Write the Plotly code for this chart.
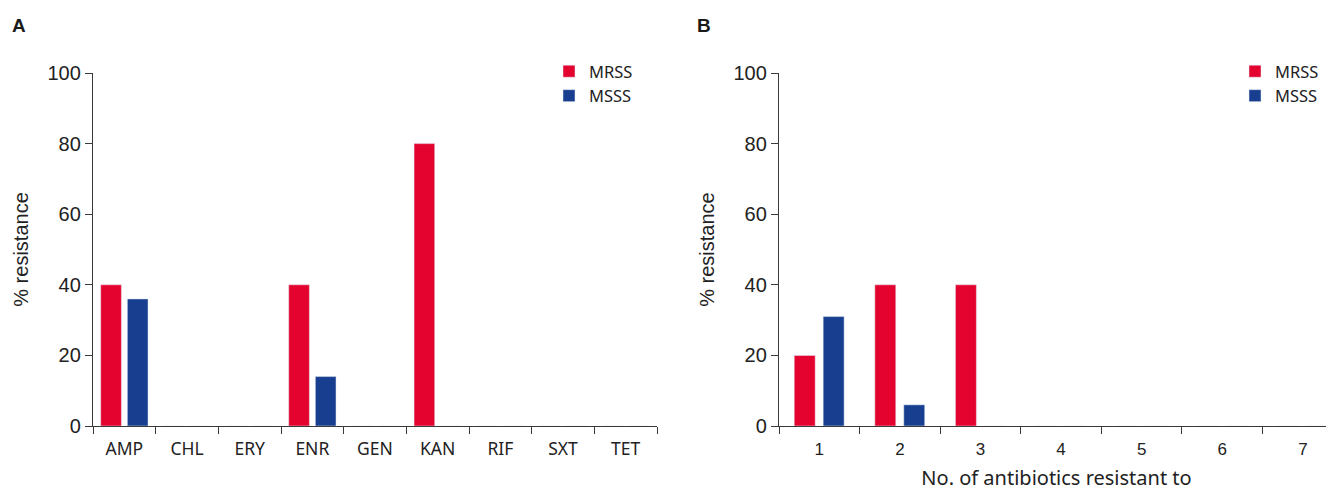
import plotly.graph_objects as go

# ---- data ----
antibiotics = ["AMP", "CHL", "ERY", "ENR", "GEN", "KAN", "RIF", "SXT", "TET"]
mrss_resistance = [40, 0, 0, 40, 0, 80, 0, 0, 0]
msss_resistance = [36, 0, 0, 14, 0, 0, 0, 0, 0]

n_resistant = ["1", "2", "3", "4", "5", "6", "7"]
mrss_multi = [20, 40, 40, 0, 0, 0, 0]
msss_multi = [31, 6, 0, 0, 0, 0, 0]

y_ticks = [0, 20, 40, 60, 80, 100]

RED = "#E4032E"
BLUE = "#183F8F"
AXC = "#3a3a3a"

# page body has an 8px margin in the browser; size the figure to fit the window
OFF = 8
W, H = 1334 - OFF, 491 - OFF


def px_x(p):
    return min(1.0, (p - OFF) / W)


def px_y(p):
    return (H - (p - OFF)) / H


fig = go.Figure()

# Panel A
fig.add_trace(go.Bar(x=antibiotics, y=mrss_resistance, name="MRSS", marker_color=RED,
                     width=0.33, offset=-0.377, xaxis="x", yaxis="y", legend="legend"))
fig.add_trace(go.Bar(x=antibiotics, y=msss_resistance, name="MSSS", marker_color=BLUE,
                     width=0.33, offset=0.048, xaxis="x", yaxis="y", legend="legend"))
# Panel B
fig.add_trace(go.Bar(x=n_resistant, y=mrss_multi, name="MRSS", marker_color=RED,
                     width=0.26, offset=-0.311, xaxis="x2", yaxis="y2", legend="legend2"))
fig.add_trace(go.Bar(x=n_resistant, y=msss_multi, name="MSSS", marker_color=BLUE,
                     width=0.26, offset=0.048, xaxis="x2", yaxis="y2", legend="legend2"))

ydom = [px_y(426), px_y(73)]

common_x = dict(
    type="category", showline=True, linecolor=AXC, linewidth=1.3,
    ticks="outside", ticklen=7, tickwidth=1.3, tickcolor=AXC, tickson="boundaries",
    showgrid=False, zeroline=False, fixedrange=True, automargin=False,
    ticklabelstandoff=7,
)
common_y = dict(
    range=[0, 100], tickvals=y_ticks, showline=True, linecolor=AXC, linewidth=1.3,
    ticks="outside", ticklen=7, tickwidth=1.3, tickcolor=AXC, showgrid=False,
    zeroline=False, domain=ydom, automargin=False,
    tickfont=dict(family="Liberation Sans, Arial, sans-serif", size=20, color="#222"),
    title=dict(text="% resistance", standoff=13,
               font=dict(family="Liberation Sans, Arial, sans-serif", size=20, color="#222")),
)

fig.update_layout(
    width=W, height=H,
    margin=dict(l=0, r=0, t=0, b=0, autoexpand=False),
    paper_bgcolor="white", plot_bgcolor="white",
    barmode="overlay",
    xaxis=dict(common_x, domain=[px_x(93), px_x(657)], range=[-0.5, 8.5], anchor="y",
               tickfont=dict(family="Noto Sans, sans-serif", size=17.5, color="#222")),
    yaxis=dict(common_y, anchor="x"),
    xaxis2=dict(common_x, domain=[px_x(779), 1.0], range=[-0.5, 6.386], anchor="y2",
                tickfont=dict(family="Liberation Sans, Arial, sans-serif", size=17, color="#222"),
                title=dict(text="No. of antibiotics resistant to", standoff=15,
                           font=dict(family="Noto Sans, sans-serif", size=20, color="#222"))),
    yaxis2=dict(common_y, anchor="x2"),
    legend=dict(x=px_x(549), y=px_y(54), xanchor="left", yanchor="top",
                font=dict(family="Noto Sans, sans-serif", size=16.5, color="#222"),
                bgcolor="rgba(0,0,0,0)", itemclick=False),
    legend2=dict(x=px_x(1235), y=px_y(54), xanchor="left", yanchor="top",
                 font=dict(family="Noto Sans, sans-serif", size=16.5, color="#222"),
                 bgcolor="rgba(0,0,0,0)", itemclick=False),
    annotations=[
        dict(text="<b>A</b>", x=px_x(10), y=px_y(25), xref="paper", yref="paper",
             xanchor="left", yanchor="middle", showarrow=False,
             font=dict(family="Liberation Sans, Arial, sans-serif", size=19, color="#1a1a1a")),
        dict(text="<b>B</b>", x=px_x(695), y=px_y(25), xref="paper", yref="paper",
             xanchor="left", yanchor="middle", showarrow=False,
             font=dict(family="Liberation Sans, Arial, sans-serif", size=19, color="#1a1a1a")),
    ],
)

fig.write_html("out.html")
